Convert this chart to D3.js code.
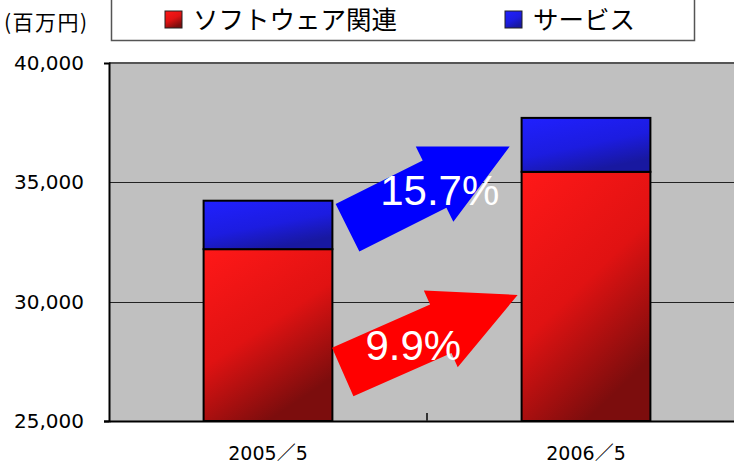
<!DOCTYPE html>
<html>
<head>
<meta charset="utf-8">
<script src="https://cdn.jsdelivr.net/npm/d3@7"></script>
<style>
  body { margin: 0; background: #fff; }
  svg { display: block; }
</style>
</head>
<body>
<div id="chart"></div>
<script>
// data (百万円)
const categories = ["2005／5", "2006／5"];
const software = [32200, 35440];   // ソフトウェア関連
const service = [2030, 2260];      // サービス
const seriesNames = ["ソフトウェア関連", "サービス"];
const yTicks = [25000, 30000, 35000, 40000];
const growthLabels = ["9.9%", "15.7%"];

const W = 734, H = 464;
const plot = { left: 109, top: 63, right: 745, bottom: 421 };

const svg = d3.select("#chart").append("svg")
    .attr("width", W)
    .attr("height", H);

const defs = svg.append("defs");
function grad(id, stops) {
    const g = defs.append("linearGradient").attr("id", id)
        .attr("x1", 0).attr("y1", 0).attr("x2", 0.5).attr("y2", 1);
    stops.forEach(s => g.append("stop").attr("offset", s[0]).attr("stop-color", s[1]));
}
grad("gRed", [["0%", "#ff1818"], ["55%", "#e01212"], ["100%", "#7c0d0d"]]);
grad("gBlue", [["0%", "#2020ff"], ["60%", "#1c1ce0"], ["100%", "#1818a0"]]);

const x = d3.scaleBand().domain(categories).range([plot.left, plot.right]);
const y = d3.scaleLinear().domain([25000, 40000]).range([plot.bottom, plot.top]);
const barW = x.bandwidth() * 0.405;
const cx = c => x(c) + x.bandwidth() / 2;

// plot background
svg.append("rect")
    .attr("x", plot.left).attr("y", plot.top)
    .attr("width", plot.right - plot.left).attr("height", plot.bottom - plot.top)
    .attr("fill", "#c0c0c0");

// grid lines
svg.selectAll(".grid").data(yTicks.filter(t => t > 25000 && t < 40000))
    .enter().append("line")
    .attr("x1", plot.left).attr("x2", plot.right)
    .attr("y1", d => Math.round(y(d)) + 0.5).attr("y2", d => Math.round(y(d)) + 0.5)
    .attr("stroke", "#222").attr("stroke-width", 1);

// top border of plot
svg.append("line")
    .attr("x1", plot.left).attr("x2", plot.right)
    .attr("y1", plot.top).attr("y2", plot.top)
    .attr("stroke", "#555").attr("stroke-width", 2);

// stacked bars
const rows = categories.map((c, i) => ({ cat: c, software: software[i], service: service[i] }));
const stack = d3.stack().keys(["software", "service"]);
const layers = stack(rows);
const fills = ["url(#gRed)", "url(#gBlue)"];

layers.forEach((layer, li) => {
    svg.append("g").selectAll("rect")
        .data(layer)
        .enter().append("rect")
        .attr("x", d => cx(d.data.cat) - barW / 2)
        .attr("y", d => y(d[1]))
        .attr("width", barW)
        .attr("height", d => y(Math.max(d[0], 25000)) - y(d[1]))
        .attr("fill", fills[li])
        .attr("stroke", "#000")
        .attr("stroke-width", 2);
});

// axes
const yAxis = svg.append("g")
    .attr("transform", `translate(${plot.left},0)`)
    .call(d3.axisLeft(y).tickValues(yTicks).tickFormat(d3.format(",")).tickSize(5).tickPadding(20));
yAxis.select(".domain").attr("stroke", "#000").attr("stroke-width", 2);
yAxis.selectAll(".tick line").attr("stroke", "#000").attr("stroke-width", 2)
    .filter(d => d !== 25000).remove();
yAxis.selectAll("text")
    .attr("font-family", "DejaVu Sans, sans-serif")
    .attr("font-size", 20)
    .attr("fill", "#000");

const xAxis = svg.append("g")
    .attr("transform", `translate(0,${plot.bottom})`)
    .call(d3.axisBottom(x).tickSize(0).tickPadding(26));
xAxis.select(".domain").attr("stroke", "#000").attr("stroke-width", 2);
xAxis.selectAll("text")
    .attr("font-family", "DejaVu Sans, 'Noto Sans CJK JP', sans-serif")
    .attr("font-size", 19)
    .attr("fill", "#000");
// category separator tick
xAxis.append("line")
    .attr("x1", x(categories[1])).attr("x2", x(categories[1]))
    .attr("y1", -8).attr("y2", 0)
    .attr("stroke", "#333").attr("stroke-width", 2);

// growth arrows: tail/tip given as (fraction between category centres, value)
const arrows = [
    { tail: [0.235, 27050], tip: [0.785, 30280], color: "#ff0000", label: growthLabels[0], text: [0.457, 27560] },
    { tail: [0.250, 33100], tip: [0.760, 36500], color: "#0000ff", label: growthLabels[1], text: [0.540, 34050] }
];
const ax = f => cx(categories[0]) + f * (cx(categories[1]) - cx(categories[0]));
const shaftHalf = 26.5, headHalf = 42, headLen = 84;

arrows.forEach(a => {
    const x0 = ax(a.tail[0]), y0 = y(a.tail[1]);
    const x1 = ax(a.tip[0]), y1 = y(a.tip[1]);
    const len = Math.hypot(x1 - x0, y1 - y0);
    const ux = (x1 - x0) / len, uy = (y1 - y0) / len;
    const nx = -uy, ny = ux;
    const bx = x1 - ux * headLen, by = y1 - uy * headLen;
    const pts = [
        [x0 + nx * shaftHalf, y0 + ny * shaftHalf],
        [bx + nx * shaftHalf, by + ny * shaftHalf],
        [bx + nx * headHalf, by + ny * headHalf],
        [x1, y1],
        [bx - nx * headHalf, by - ny * headHalf],
        [bx - nx * shaftHalf, by - ny * shaftHalf],
        [x0 - nx * shaftHalf, y0 - ny * shaftHalf]
    ];
    svg.append("polygon")
        .attr("points", pts.map(p => p.join(",")).join(" "))
        .attr("fill", a.color);
    svg.append("text")
        .attr("x", ax(a.text[0]))
        .attr("y", y(a.text[1]))
        .attr("text-anchor", "middle")
        .attr("font-family", "Liberation Sans, Arial, sans-serif")
        .attr("font-size", 42)
        .attr("fill", "#fff")
        .text(a.label);
});

// unit label
svg.append("text")
    .attr("x", 4).attr("y", 30)
    .attr("font-family", "'Noto Sans CJK JP', sans-serif")
    .attr("font-size", 21)
    .attr("letter-spacing", 1.5)
    .attr("fill", "#000")
    .text("(百万円)");

// legend box (top cut off)
svg.append("rect")
    .attr("x", 111.5).attr("y", -10)
    .attr("width", 583).attr("height", 50.5)
    .attr("fill", "#fff").attr("stroke", "#555").attr("stroke-width", 1.5);

const legendX = [165, 505];
const legendFill = ["url(#gRed)", "url(#gBlue)"];
const legend = svg.append("g").selectAll("g")
    .data(seriesNames)
    .enter().append("g")
    .attr("transform", (d, i) => `translate(${legendX[i]},11)`);
legend.append("rect")
    .attr("width", 17).attr("height", 17)
    .attr("fill", (d, i) => legendFill[i])
    .attr("stroke", "#222").attr("stroke-width", 1);
legend.append("text")
    .attr("x", 28).attr("y", 18)
    .attr("font-family", "'Noto Sans CJK JP', sans-serif")
    .attr("font-size", 25.5)
    .attr("fill", "#000")
    .text(d => d);
</script>
</body>
</html>
